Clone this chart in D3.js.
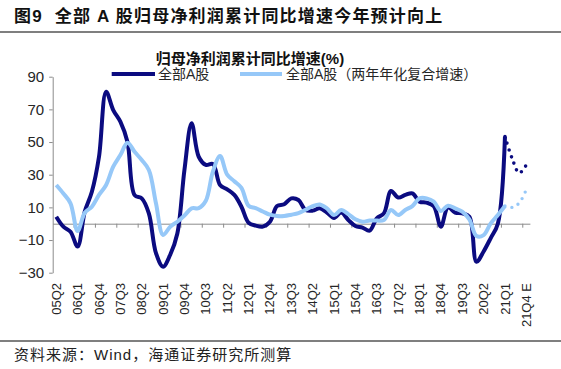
<!DOCTYPE html>
<html><head><meta charset="utf-8">
<script src="https://cdn.jsdelivr.net/npm/d3@7"></script>
<style>
body{margin:0;background:#fff;}
svg{display:block;font-family:"Liberation Sans","Noto Sans CJK SC",sans-serif;}
</style>
</head><body>
<svg id="c" width="561" height="369"></svg>
<script>
const categories = [
 "05Q2","05Q3","05Q4",
 "06Q1","06Q2","06Q3","06Q4","07Q1","07Q2","07Q3","07Q4",
 "08Q1","08Q2","08Q3","08Q4","09Q1","09Q2","09Q3","09Q4",
 "10Q1","10Q2","10Q3","10Q4","11Q1","11Q2","11Q3","11Q4",
 "12Q1","12Q2","12Q3","12Q4","13Q1","13Q2","13Q3","13Q4",
 "14Q1","14Q2","14Q3","14Q4","15Q1","15Q2","15Q3","15Q4",
 "16Q1","16Q2","16Q3","16Q4","17Q1","17Q2","17Q3","17Q4",
 "18Q1","18Q2","18Q3","18Q4","19Q1","19Q2","19Q3","19Q4",
 "20Q1","20Q2","20Q3","20Q4","21Q1","21Q2","21Q3","21Q4 E"];
const tickLabels = ["05Q2","06Q1","06Q4","07Q3","08Q2","09Q1","09Q4","10Q3","11Q2","12Q1","12Q4",
 "13Q3","14Q2","15Q1","15Q4","16Q3","17Q2","18Q1","18Q4","19Q3","20Q2","21Q1","21Q4 E"];
const yTicks = [-30,-10,10,30,50,70,90];

// 全部A股 actual (05Q2 - 21Q1)
const allA = [4.3,-1.8,-4.9,-14,7.4,19.6,41,80.8,69.6,62.5,50,17.5,15.5,6.3,-18,-26.3,-19,-6,33,61.5,
 41,36,36.5,23.7,21,17.6,10.4,0.6,-1.2,-1.8,1.2,10.8,11.9,15.5,14.5,8.4,8,9.4,6.8,3.5,
 6.8,2.3,-1.4,-2.4,-4.3,3.3,6.3,20,16,17.6,18.6,13.5,12.9,10.8,-1.8,10,6.8,6.3,4.3,-23.3,
 -17,-8.8,0,53.3];
// forecast 21Q1(actual) - 21Q4 E
const allAForecast = [53.3,40,31,36];

// 全部A股（两年年化复合增速）
const allA2y = [23.7,18.5,12.5,-4.5,6.7,10.4,17.6,23.7,34.9,42,49.6,44,39,32.9,12.5,-6.9,-1.8,1.2,5,9.4,
 9.5,14,32,41.4,30,26,22,11,9.5,7.5,5.5,4.7,4.7,5.5,6.5,8.5,10.8,11.8,9.4,5.3,
 8.4,5.9,2.7,1.2,1.9,1.9,2.3,8.4,5.3,8.4,10.8,15.5,15.5,13.5,7.8,11,9.4,7.4,2.7,-7.5,
 -7,0.2,5.3,10.8];
const allA2yForecast = [10.8,10,12.7,21];

const DARK = "#0b0b80", LIGHT = "#96c8f8", AXIS = "#8c8c8c", TXT = "#262626";

const svg = d3.select("#c");
const x = d3.scaleBand().domain(categories).range([52.7, 529.9]).padding(0);
const y = d3.scaleLinear().domain([-30, 90]).range([272.7, 76.7]);
const cx = c => x(c) + x.bandwidth()/2;

// Title
svg.append("text").attr("x",14).attr("y",22).attr("font-size",17).attr("font-weight","bold")
  .attr("fill","#111").attr("letter-spacing","1.2px").attr("xml:space","preserve")
  .text("图9  全部 A 股归母净利润累计同比增速今年预计向上");
svg.append("line").attr("x1",0).attr("x2",561).attr("y1",32).attr("y2",32)
  .attr("stroke","#555").attr("stroke-width",1.6);

// Subtitle
svg.append("text").attr("x",250).attr("y",64).attr("text-anchor","middle").attr("font-size",15)
  .attr("font-weight","bold").attr("fill","#111").text("归母净利润累计同比增速(%)");

// Legend
const legend = [
  {name:"全部A股", color:DARK, x1:111.7, x2:155, tx:158},
  {name:"全部A股（两年年化复合增速）", color:LIGHT, x1:240, x2:282, tx:286}
];
legend.forEach(l => {
  svg.append("line").attr("x1",l.x1).attr("x2",l.x2).attr("y1",74).attr("y2",74)
    .attr("stroke",l.color).attr("stroke-width",4);
  svg.append("text").attr("x",l.tx).attr("y",79).attr("font-size",14).attr("fill",TXT).text(l.name);
});

// Y axis
const yAxis = svg.append("g").attr("transform","translate(52.7,0)")
  .call(d3.axisLeft(y).tickValues(yTicks).tickSize(3.5).tickSizeOuter(0).tickPadding(5));
yAxis.select(".domain").attr("stroke",AXIS);
yAxis.selectAll(".tick line").attr("stroke",AXIS);
yAxis.selectAll("text").attr("font-size",15).attr("fill",TXT).attr("font-family",null);

// X axis at zero
const xAxis = svg.append("g").attr("transform",`translate(0,${y(0)})`)
  .call(d3.axisBottom(x).tickValues(tickLabels).tickSize(0).tickSizeOuter(0));
xAxis.select(".domain").attr("stroke",AXIS);
xAxis.selectAll(".tick line").remove();
xAxis.selectAll("text").attr("font-size",13).attr("fill",TXT).attr("font-family",null)
  .attr("transform","rotate(-90)").attr("text-anchor","end")
  .attr("x",-(283 - y(0))).attr("y",0).attr("dy","0.35em");
// tick marks at category boundaries every 3 categories
const boundaryCats = categories.filter((c,i)=> i>0 && i%3===0);
xAxis.selectAll(".bt").data(boundaryCats).enter().append("line")
  .attr("x1",d=>x(d)).attr("x2",d=>x(d)).attr("y1",0).attr("y2",4).attr("stroke",AXIS);

// Lines
const curve = d3.curveCatmullRom.alpha(0.5);
const line = d3.line().x(d=>cx(d.c)).y(d=>y(d.v)).curve(curve);
const toPts = (arr, start) => arr.map((v,i)=>({c:categories[start+i], v}));
const nAct = allA.length;

svg.append("path").datum(toPts(allA,0)).attr("d",line).attr("fill","none")
  .attr("stroke",DARK).attr("stroke-width",4).attr("stroke-linejoin","round");
svg.append("path").datum(toPts(allAForecast,nAct-1)).attr("d",line).attr("fill","none")
  .attr("stroke",DARK).attr("stroke-width",3.6).attr("stroke-linecap","round")
  .attr("stroke-dasharray","0,7").attr("stroke-dashoffset",-7);

svg.append("path").datum(toPts(allA2y,0)).attr("d",line).attr("fill","none")
  .attr("stroke",LIGHT).attr("stroke-width",4).attr("stroke-linejoin","round");
svg.append("path").datum(toPts(allA2yForecast,nAct-1)).attr("d",line).attr("fill","none")
  .attr("stroke",LIGHT).attr("stroke-width",3.4).attr("stroke-linecap","round")
  .attr("stroke-dasharray","0,7").attr("stroke-dashoffset",-7);

// Footer
svg.append("line").attr("x1",0).attr("x2",561).attr("y1",341).attr("y2",341)
  .attr("stroke","#555").attr("stroke-width",1.6);
svg.append("text").attr("x",14).attr("y",360).attr("font-size",15).attr("fill","#222")
  .attr("letter-spacing","1px").text("资料来源：Wind，海通证券研究所测算");
</script>
</body></html>
